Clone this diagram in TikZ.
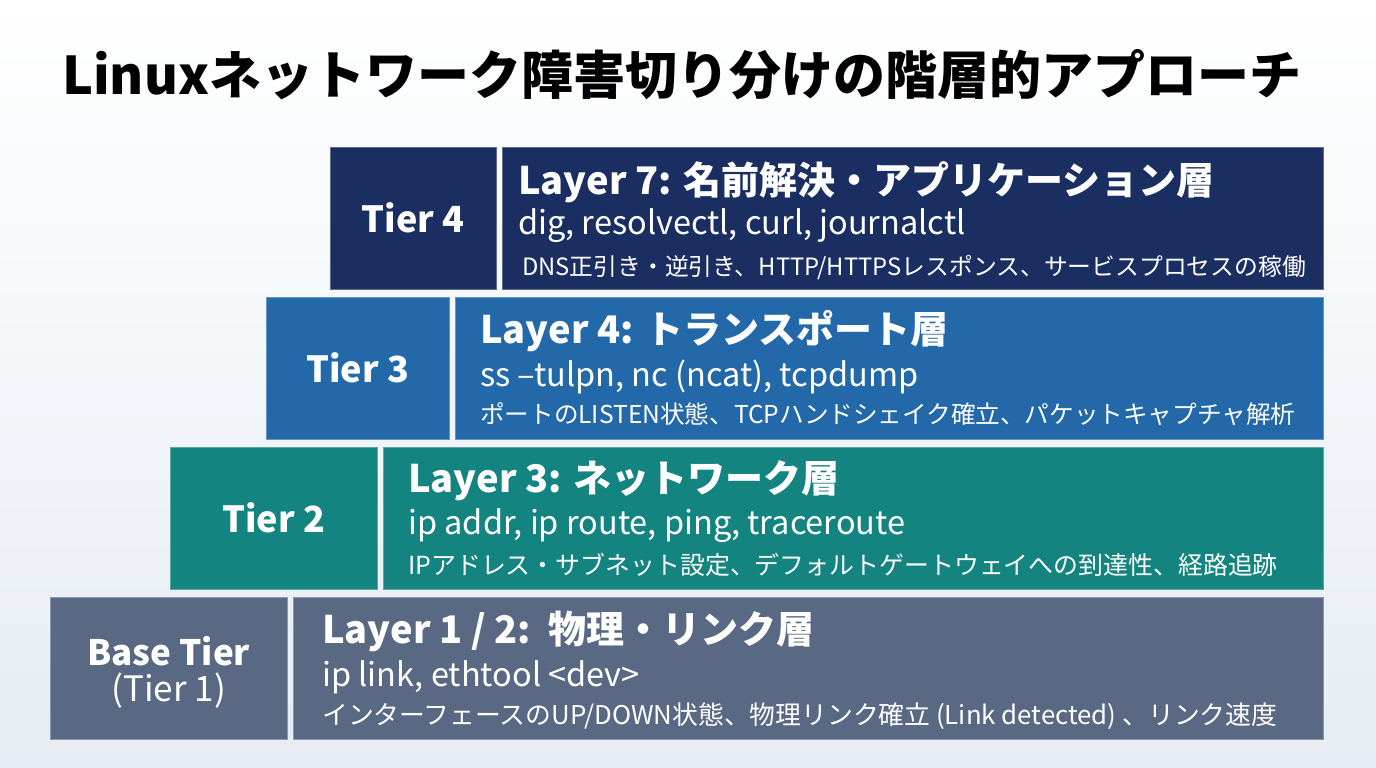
\documentclass[tikz,border=0pt]{standalone}
\usepackage{fontspec}
\setmainfont{Noto Sans CJK JP}
\usetikzlibrary{positioning,calc}

\definecolor{tierfour}{HTML}{1A2E62}
\definecolor{tierthree}{HTML}{2368A9}
\definecolor{tiertwo}{HTML}{13847F}
\definecolor{tierone}{HTML}{5A6983}
\definecolor{bgbottom}{HTML}{E6ECF3}

\begin{document}
\begin{tikzpicture}[x=1pt,y=-1pt,
    tierbox/.style={inner sep=0pt, minimum height=142pt, anchor=north west,
      align=center, text=white, font=\bfseries\fontsize{36}{42}\selectfont},
    layerbox/.style={inner sep=0pt, minimum height=142pt, anchor=north west},
    headtext/.style={anchor=west, inner sep=0pt, text=white, font=\bfseries\fontsize{38}{44}\selectfont},
    cmdtext/.style={anchor=west, inner sep=0pt, text=white, font=\fontsize{32.5}{38}\selectfont},
    desctext/.style={anchor=west, inner sep=0pt, text=white, font=\fontsize{#1}{28}\selectfont},
    desctext/.default=24]

    % background
    \shade[top color=white, bottom color=bgbottom] (0,0) rectangle (1376,768);

    \node[font=\bfseries\fontsize{52}{60}\selectfont, anchor=west, inner sep=0pt] (title) at (62,75)
        {Linuxネットワーク障害切り分けの階層的アプローチ};

    % Tier 4
    \node[tierbox, fill=tierfour, draw=tierfour!70!white, minimum width=166pt] (tier4) at (330,147) {Tier 4};
    \node[layerbox, fill=tierfour, draw=tierfour!70!white, minimum width=821pt] (layer7) at (502,147) {};
    \node[headtext] (layer7head) at (518,182) {Layer 7: 名前解決・アプリケーション層};
    \node[cmdtext] (layer7cmd) at (518,226) {dig, resolvectl, curl, journalctl};
    \node[desctext=23.8] (layer7desc) at (522,268) {DNS正引き・逆引き、HTTP/HTTPSレスポンス、サービスプロセスの稼働};

    % Tier 3
    \node[tierbox, fill=tierthree, draw=tierthree!70!white, minimum width=183pt] (tier3) at (266,297) {Tier 3};
    \node[layerbox, fill=tierthree, draw=tierthree!70!white, minimum width=868pt] (layer4) at (455,297) {};
    \node[headtext] (layer4head) at (480,331) {Layer 4: トランスポート層};
    \node[cmdtext] (layer4cmd) at (480,377) {ss –tulpn, nc (ncat), tcpdump};
    \node[desctext=24.6] (layer4desc) at (480,414) {ポートのLISTEN状態、TCPハンドシェイク確立、パケットキャプチャ解析};

    % Tier 2
    \node[tierbox, fill=tiertwo, draw=tiertwo!70!white, minimum width=207pt] (tier2) at (170,447) {Tier 2};
    \node[layerbox, fill=tiertwo, draw=tiertwo!70!white, minimum width=940pt] (layer3) at (383,447) {};
    \node[headtext] (layer3head) at (408,481) {Layer 3: ネットワーク層};
    \node[cmdtext] (layer3cmd) at (408,526) {ip addr, ip route, ping, traceroute};
    \node[desctext=24.9] (layer3desc) at (408,565) {IPアドレス・サブネット設定、デフォルトゲートウェイへの到達性、経路追跡};

    % Base tier
    \node[tierbox, fill=tierone, draw=tierone!70!white, minimum width=237pt] (tier1) at (50,597) {};
    \node[align=center, text=white, font=\bfseries\fontsize{35}{42}\selectfont, yshift=-4pt] (tier1label) at (tier1.center)
        {Base Tier\\[-6pt]\mdseries(Tier 1)};
    \node[layerbox, fill=tierone, draw=tierone!70!white, minimum width=1030pt] (layer12) at (293,597) {};
    \node[headtext] (layer12head) at (322,631) {Layer 1 / 2:\ \ 物理・リンク層};
    \node[cmdtext] (layer12cmd) at (322,677) {ip link, ethtool <dev>};
    \node[desctext=25.8] (layer12desc) at (322,716) {インターフェースのUP/DOWN状態、物理リンク確立 (Link detected) 、リンク速度};
\end{tikzpicture}
\end{document}
